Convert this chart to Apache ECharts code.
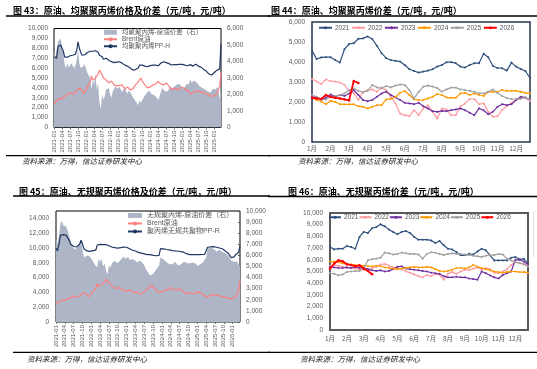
<!DOCTYPE html>
<html><head><meta charset="utf-8">
<script src="https://cdn.jsdelivr.net/npm/echarts@6/dist/echarts.min.js"></script>
<style>html,body{margin:0;padding:0;background:#fff}#c{width:537px;height:369px}</style>
</head><body><div id="c"></div>
<script>
// ---- categories ----
const halfMonths = [];
for (let y = 2021; y <= 2026; y++) {
  for (let m = 1; m <= 12; m++) {
    if (y === 2026 && m > 3) break;
    const s = y + '-' + String(m).padStart(2, '0');
    halfMonths.push(s, s + 'b');
  }
}
const weeks = [];
for (let m = 1; m <= 12; m++) { for (let k = 0; k < 4; k++) weeks.push(m + '月'); }
const seasonNames = ['2021', '2022', '2023', '2024', '2025', '2026'];

// ---- 图43 / 图45 data (semi-monthly, 2021-01 .. 2026-03) ----
const ppH = [7140,6950,7000,8200,8300,8320,8300,7700,7100,7000,7100,7200,7250,7200,7300,7250,7400,7800,8650,8000,7600,7300,7200,7350,
  7450,7580,7650,7700,7800,7700,7800,7750,7890,7600,7300,7100,7140,6900,6950,7000,6880,6800,6700,6650,6600,6550,6540,6600,
  6650,6640,6600,6500,6450,6300,6250,6200,6210,6000,5850,5800,5800,5850,5900,6000,6300,6400,6300,6250,6200,6150,6140,6200,
  6250,6300,6300,6250,6300,6350,6240,6350,6500,6600,6640,6600,6550,6500,6450,6400,6310,6300,6350,6400,6350,6380,6380,6400,
  6380,6350,6300,6350,6240,6300,6350,6250,6200,6300,6380,6300,6200,6150,6100,6000,5870,5800,5700,5500,5400,5300,5300,5450,
  5550,5650,5800,5850,5900,8400];
const brent = [2400,2550,2700,2900,2950,2850,2900,3050,3150,3200,3300,3400,3500,3450,3350,3500,3550,3700,3900,4000,3950,3700,3400,3550,
  3800,4100,4300,4500,5200,4800,4900,5000,5200,5400,5800,6000,5300,5000,4900,4800,4600,4500,4600,4700,4500,4300,4100,4200,
  4300,4250,4200,4300,4100,3900,4000,4100,3900,3800,3850,3900,4000,4300,4450,4600,4800,5000,4700,4500,4300,4200,4000,4050,
  4100,4200,4300,4350,4400,4500,4650,4500,4400,4250,4300,4450,4500,4350,4200,4000,3800,3850,4000,3900,3850,3800,3850,3900,
  4100,4000,3900,3800,3750,3700,3400,3450,3500,3450,3700,3600,3650,3700,3600,3550,3500,3550,3400,3350,3300,3250,3150,3100,
  3200,3300,3400,3500,4200,5600];
const spreadH = [4600,4300,4250,5200,5300,5400,5350,4500,3800,3600,3900,3650,3700,3900,3850,3600,3750,4100,4700,3900,3600,3500,3700,3850,
  3550,3300,3300,3000,2300,2900,2600,3300,2300,2700,1500,1100,2000,1700,1900,2300,2200,2400,2000,1800,2200,2300,2500,2350,
  2300,2450,2350,2150,2300,2450,2200,2050,2250,2150,2000,1850,1750,1600,1500,1350,1650,1500,1650,1800,1900,2050,2100,2250,
  2200,2050,2050,1950,1950,1800,1650,1900,2150,2400,2300,2200,2100,2200,2300,2450,2550,2400,2400,2550,2550,2650,2600,2550,
  2350,2400,2450,2600,2550,2650,2900,2750,2750,2850,2750,2700,2600,2500,2550,2400,2400,2300,2300,2200,2150,2100,2200,2350,
  2400,2300,2450,2300,1700,2800];
const ppR = [10000,9600,10500,11700,11950,11800,11900,11700,11500,11000,10500,10300,10200,10100,10150,10300,10500,11040,10500,9900,9700,9600,9600,9550,
  9600,9650,9600,9700,10400,10600,10500,10450,10450,10500,10450,10400,10300,10200,10130,10100,10050,10000,9990,10000,10050,10100,10130,10000,
  10100,10050,9900,9800,9700,9690,9600,9500,9400,9380,9300,9250,9200,9150,9100,9110,9110,9050,9000,8930,8950,9000,9000,9920,
  9900,9880,9850,9800,9800,9750,9700,9650,9650,9600,9600,9560,9550,9500,9500,9400,9250,9200,9150,9110,9110,9100,9100,9110,
  9120,9100,9110,9120,9110,9150,9200,10100,10130,10150,10200,10180,10150,10100,10050,10000,9950,9900,9800,9600,9450,9300,9050,8700,
  8500,8800,9100,9000,9400,10300];
const spreadR = [7500,7100,7700,8900,9100,8700,8800,8600,8200,7700,7300,6800,6800,6500,6700,6900,6850,7300,6500,5800,5700,6000,6100,5900,
  5750,5500,5250,5100,4900,5700,5400,5700,5000,5300,4600,4300,5100,4900,5300,5150,5500,5350,5300,5450,5600,5750,5900,5700,
  5750,5850,5600,5450,5650,5750,5550,5350,5450,5550,5400,5300,5100,4800,4550,4450,4200,4100,4350,4500,4700,4850,5100,5800,
  5700,5650,5500,5400,5350,5200,5100,5200,5300,5400,5250,5100,5000,5200,5250,5450,5500,5300,5200,5300,5300,5350,5300,5250,
  5050,5150,5200,5350,5400,5500,5800,6600,6600,6700,6550,6600,6450,6350,6400,6500,6400,6300,6350,6200,6100,6000,5800,5500,
  5350,5450,5600,5450,5200,5000];

// ---- 图44 data (weekly, 均聚聚丙烯-原油价差) ----
const s44_2021 = [4570,4150,4230,4240,4240,4100,3970,4640,4900,4940,5160,5180,5280,5150,4810,4440,4190,4100,4060,4020,3850,3640,3550,3470,
  3520,3570,3640,3770,3850,3990,3990,3940,3770,3720,3850,3940,3940,4410,4240,3800,3700,3690,3570,3970,3770,3650,3550,3200];
const s44_2022 = [3150,3020,2900,3130,3050,3020,2980,2850,2560,2450,2100,2510,2600,2630,2510,2730,2600,2260,1930,1420,1340,1290,1590,1340,
  1680,1840,1510,1170,1680,1630,1340,1340,1790,1930,2150,2150,1890,1930,1510,1260,1290,1600,1800,1950,2100,2200,2200,2050];
const s44_2023 = [2260,2230,2130,2210,2380,2260,2350,2300,2430,2600,2350,2100,2040,2100,2260,2430,2510,2350,2230,2100,1960,1930,1890,1960,
  1790,1680,1540,1510,1560,1540,1590,1630,1680,1590,1460,1340,1680,1590,1390,1510,1760,1890,1840,1890,2100,2260,2230,2100];
const s44_2024 = [2230,2100,2010,1890,2060,2010,1890,1880,1880,1890,1790,1760,1680,1760,1840,1840,2130,2160,2250,2460,2550,2350,2130,2100,
  2100,2180,2260,2400,2350,2230,2210,2210,2430,2460,2350,2430,2350,2300,2510,2510,2510,2600,2560,2560,2560,2510,2460,2430];
const s44_2025 = [2350,2260,2100,2130,2260,2300,2350,2430,2600,2680,2560,2480,2560,2850,2730,2680,2800,2730,2820,2880,2850,2600,2180,2510,
  2770,2820,2770,2700,2510,2630,2720,2720,2630,2600,2560,2510,2430,2430,2510,2630,2450,2300,2200,2150,2150,2160,2230,2100];
const s44_2026 = [2200,2180,2150,2350,2260,2210,2180,2130,2080,3050,2950];

// ---- 图46 data (weekly, 无规聚丙烯-原油价差) ----
const s46_2021 = [7090,6890,6950,6950,7180,7090,6950,7950,8380,8290,8700,8800,9030,8860,8580,8380,8180,8380,8460,8290,7950,7720,7720,7720,
  7660,7440,7610,7240,6950,6890,6670,6380,6380,6520,6450,6720,6950,6810,6380,5950,5950,5950,5950,6180,6240,6040,6080,5700];
const s46_2022 = [5500,5550,5500,5400,5350,5300,5250,5200,5150,5100,5300,5400,5600,5650,5500,5350,5300,5200,5000,4900,4750,4600,4500,4700,
  4600,4800,4700,4300,4800,4950,4800,5000,5150,5100,5250,5350,5150,5300,5200,4900,4850,5000,5200,5550,5800,5700,5600,5500];
const s46_2023 = [5400,5350,5300,5300,5350,5300,5400,5300,5300,5200,5100,5050,5100,5000,5050,5200,5400,5450,5250,5200,5150,5100,5050,5000,
  4900,4850,4800,4600,4500,4500,4550,4500,4500,4400,4350,4300,5000,4850,4660,4500,4400,4700,4850,5000,6000,6000,5850,5600];
const s46_2024 = [5850,5850,5800,5700,5650,5600,5550,5500,5500,5450,5450,5500,5450,5350,5300,5250,5200,5250,5300,5350,5400,5350,5350,5400,
  5350,5200,5050,5000,5050,5150,5300,5300,5250,5350,5550,5400,5300,5200,5100,5000,4950,4900,4950,5000,5000,4950,4950,4900];
const s46_2025 = [4870,4800,4680,4750,4960,5000,5040,5050,5250,5960,6050,6100,6180,6620,6550,6450,6500,6620,6550,6500,6500,6450,6100,6500,
  6650,6600,6500,6400,6500,6550,6500,6500,6450,6400,6350,6300,6250,6350,6400,6400,6500,6450,6100,5950,5800,5750,5650,5400];
const s46_2026 = [5250,5680,5960,5870,5620,5550,5450,5530,5250,5050,4770];

// ---- styles ----
const numFont = '"Liberation Sans", "Noto Sans CJK SC", sans-serif';
const cjkFont = '"Noto Sans CJK SC", sans-serif';
const gray = '#595959';
const areaCol = '#adb5c6', brentCol = '#ff7f7f', ppCol = '#203864';
const seasonCols = ['#30507f', '#ff9aa2', '#7030a0', '#ff9900', '#a0a0a0', '#ff0000'];
const fmt = v => Number(v).toLocaleString('en-US');

function valAxis(grid, max, interval, extra) {
  return Object.assign({
    type: 'value', gridIndex: grid, min: 0, max: max, interval: interval,
    splitLine: { show: false }, axisLine: { show: false }, axisTick: { show: false },
    axisLabel: { fontSize: 6.5, color: gray, fontFamily: numFont, formatter: fmt, margin: 6 }
  }, extra || {});
}
function dateAxis(grid) {
  return {
    type: 'category', gridIndex: grid, data: halfMonths, boundaryGap: false,
    axisLine: { show: false }, axisTick: { show: true, interval: 5, length: 2, lineStyle: { color: '#777' } },
    axisLabel: { interval: 5, rotate: 90, fontSize: 6, color: gray, fontFamily: numFont, margin: 3,
      formatter: v => v.slice(0, 7) }
  };
}
function weekAxis(grid, margin) {
  return {
    type: 'category', gridIndex: grid, data: weeks, boundaryGap: false,
    axisLine: { show: false }, axisTick: { show: false },
    axisLabel: { interval: 3, fontSize: 6.5, color: gray, fontFamily: cjkFont, margin: margin }
  };
}
const seasonData44 = [s44_2021, s44_2022, s44_2023, s44_2024, s44_2025, s44_2026];
const seasonData46 = [s46_2021, s46_2022, s46_2023, s46_2024, s46_2025, s46_2026];
function seasonSeries(xi, yi, arrs) {
  return arrs.map((d, k) => ({
    type: 'line', name: seasonNames[k], xAxisIndex: xi, yAxisIndex: yi, data: d,
    symbol: 'circle', symbolSize: k === 5 ? 2.5 : 2, showSymbol: true,
    lineStyle: { color: seasonCols[k], width: k === 5 ? 1.8 : 1.2 },
    itemStyle: { color: seasonCols[k] }, z: 2 + k
  }));
}
function seasonLegend(left, top, iw, gap) {
  return {
    left: left, top: top, width: 230, orient: 'horizontal', itemWidth: iw, itemHeight: 4, itemGap: gap, padding: 0,
    selectedMode: false, textStyle: { fontSize: 6.5, color: gray, fontFamily: numFont, padding: [0, 0, 0, -2] },
    data: seasonNames
  };
}

const titleStyle = t => ({ text: t, font: 'bold 9px "Noto Sans CJK SC"', fill: '#000', verticalAlign: 'middle' });
const srcStyle = { text: '资料来源：万得，信达证券研发中心', font: 'italic 7.5px "Noto Sans CJK SC"', fill: '#262626', verticalAlign: 'middle' };
const rule = (x1, x2, y) => ({ type: 'line', shape: { x1: x1, y1: y, x2: x2, y2: y }, style: { stroke: '#000', lineWidth: 1.3 } });

const option = {
  animation: false,
  textStyle: { fontFamily: numFont },
  graphic: [
    { type: 'text', x: 13, y: 10.5, style: titleStyle('图 43：原油、均聚聚丙烯价格及价差（元/吨，元/吨）') },
    { type: 'text', x: 271, y: 10.5, style: titleStyle('图 44：原油、均聚聚丙烯价差（元/吨，元/吨）') },
    { type: 'text', x: 19, y: 191.5, style: titleStyle('图 45：原油、无规聚丙烯价格及价差（元/吨，元/吨）') },
    { type: 'text', x: 288, y: 192, style: titleStyle('图 46：原油、无规聚丙烯价差（元/吨，元/吨）') },
    rule(6, 270, 16), rule(268, 537, 16), rule(13, 270, 196), rule(268, 537, 196.5),
    rule(6, 270, 155.7), rule(268, 537, 155.7), rule(13, 270, 352.3), rule(268, 537, 352.3),
    { type: 'text', x: 22, y: 161.5, style: srcStyle },
    { type: 'text', x: 298, y: 161.5, style: srcStyle },
    { type: 'text', x: 27, y: 359, style: srcStyle },
    { type: 'text', x: 300, y: 359, style: srcStyle },
    { type: 'rect', shape: { x: 533.5, y: 212, width: 8, height: 44 }, style: { fill: 'none', stroke: '#e3e3e3', lineWidth: 1 } }
  ],
  legend: [
    { orient: 'vertical', left: 103, top: 29, itemWidth: 13, itemHeight: 5, itemGap: 0.5, padding: 0, selectedMode: false,
      textStyle: { fontSize: 6.5, color: gray, lineHeight: 6, fontFamily: numFont },
      data: [{ name: '均聚聚丙烯-原油价差（右）', icon: 'rect', itemStyle: { color: areaCol } }, 'Brent原油', '均聚聚丙烯PP-H'] },
    seasonLegend(318, 24.5, 13, 1.5),
    { orient: 'vertical', left: 127, top: 212, itemWidth: 14, itemHeight: 5, itemGap: 1, padding: 0, selectedMode: false,
      textStyle: { fontSize: 7, color: gray, lineHeight: 6, fontFamily: numFont },
      data: [{ name: '无规聚丙烯-原油价差（右）', icon: 'rect', itemStyle: { color: areaCol } }, 'Brent原油', '聚丙烯无规共聚物PP-R'] },
    seasonLegend(328, 214, 12, 0)
  ],
  grid: [
    { left: 54, top: 28.5, width: 167, height: 99, show: true, borderColor: '#000', borderWidth: 1 },
    { left: 312, top: 22, width: 218, height: 120, show: true, borderColor: '#26344f', borderWidth: 1.5 },
    { left: 56, top: 211, width: 184, height: 111, show: true, borderColor: '#000', borderWidth: 1 },
    { left: 330, top: 213, width: 198, height: 117, show: true, borderColor: '#5a5a5a', borderWidth: 2 }
  ],
  xAxis: [dateAxis(0), weekAxis(1, 3.5), dateAxis(2), weekAxis(3, 5)],
  yAxis: [
    valAxis(0, 10000, 1000),
    valAxis(0, 6000, 1000, { position: 'right' }),
    valAxis(1, 6000, 1000, { axisLabel: { fontSize: 6.5, color: gray, fontFamily: numFont, formatter: fmt, margin: 7 } }),
    valAxis(2, 15000, 2000, { axisLabel: { fontSize: 6.5, color: gray, fontFamily: numFont, formatter: fmt, margin: 7, showMaxLabel: false } }),
    valAxis(2, 10000, 1000, { position: 'right', axisTick: { show: true, inside: true, length: 2, lineStyle: { color: '#555' } } }),
    valAxis(3, 10000, 1000, { axisLabel: { fontSize: 6.5, color: gray, fontFamily: numFont, formatter: fmt, margin: 7 } })
  ],
  series: [
    { type: 'line', name: '均聚聚丙烯-原油价差（右）', xAxisIndex: 0, yAxisIndex: 1, data: spreadH, symbol: 'none',
      lineStyle: { width: 0 }, areaStyle: { color: areaCol, opacity: 1 }, itemStyle: { color: areaCol }, z: 1 },
    { type: 'line', name: 'Brent原油', xAxisIndex: 0, yAxisIndex: 0, data: brent, symbol: 'none',
      lineStyle: { color: brentCol, width: 1.2 }, itemStyle: { color: brentCol }, z: 2 },
    { type: 'line', name: '均聚聚丙烯PP-H', xAxisIndex: 0, yAxisIndex: 0, data: ppH, symbol: 'none',
      lineStyle: { color: ppCol, width: 1.2 }, itemStyle: { color: ppCol }, z: 3 },
    ...seasonSeries(1, 2, seasonData44),
    { type: 'line', name: '无规聚丙烯-原油价差（右）', xAxisIndex: 2, yAxisIndex: 4, data: spreadR, symbol: 'none',
      lineStyle: { width: 0 }, areaStyle: { color: areaCol, opacity: 1 }, itemStyle: { color: areaCol }, z: 1 },
    { type: 'line', name: 'Brent原油', xAxisIndex: 2, yAxisIndex: 3, data: brent, symbol: 'none',
      lineStyle: { color: brentCol, width: 1.2 }, itemStyle: { color: brentCol }, z: 2 },
    { type: 'line', name: '聚丙烯无规共聚物PP-R', xAxisIndex: 2, yAxisIndex: 3, data: ppR, symbol: 'none',
      lineStyle: { color: ppCol, width: 1.2 }, itemStyle: { color: ppCol }, z: 3 },
    ...seasonSeries(3, 5, seasonData46)
  ]
};
const chart = echarts.init(document.getElementById('c'), null, { renderer: 'canvas' });
chart.setOption(option);
</script>
</body></html>
